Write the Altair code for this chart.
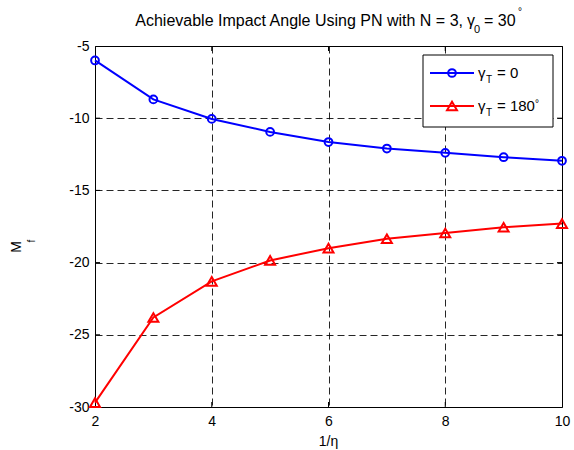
import altair as alt
import pandas as pd

# 1/eta sweep and the achievable impact angle for two target headings
inv_eta = [2, 3, 4, 5, 6, 7, 8, 9, 10]
gamma_t_0 = [-6.0, -8.7, -10.05, -10.95, -11.65, -12.1, -12.4, -12.7, -12.95]
gamma_t_180 = [-29.7, -23.8, -21.3, -19.85, -19.0, -18.35, -17.95, -17.55, -17.3]

series_names = ["gT0", "gT180"]
series_colors = ["#0000ff", "#ff0000"]

x_ticks = [2, 4, 6, 8, 10]
y_ticks = [-30, -25, -20, -15, -10, -5]
x_inner = [4, 6, 8]
y_inner = [-25, -20, -15, -10]

W, H = 467, 361
FONT = "Liberation Sans"

df = pd.concat([
    pd.DataFrame({"x": inv_eta, "y": gamma_t_0, "s": series_names[0]}),
    pd.DataFrame({"x": inv_eta, "y": gamma_t_180, "s": series_names[1]}),
])

xscale = alt.Scale(domain=[2, 10], nice=False, zero=False)
yscale = alt.Scale(domain=[-30, -5], nice=False, zero=False)
cscale = alt.Scale(domain=series_names, range=series_colors)

xaxis = alt.Axis(values=x_ticks, title=None, grid=True, gridDash=[7, 4], gridColor="black",
                 gridOpacity=0.85, domain=False, ticks=False, tickSize=0, labelPadding=7,
                 labelFlush=False, labelFont=FONT, labelFontSize=14, labelColor="black")
yaxis = alt.Axis(values=y_ticks, title=None, grid=True, gridDash=[7, 4], gridColor="black",
                 gridOpacity=0.85, domain=False, ticks=False, tickSize=0, labelPadding=6,
                 labelFlush=False, labelFont=FONT, labelFontSize=14, labelColor="black",
                 labelExpr="datum.value + ''")

X = alt.X("x:Q", scale=xscale, axis=xaxis)
Y = alt.Y("y:Q", scale=yscale, axis=yaxis)

base = alt.Chart(df)
lines = base.mark_line(strokeWidth=2).encode(
    x=X, y=Y,
    color=alt.Color("s:N", scale=cscale, legend=None),
    detail="s:N",
)
points_circ = base.transform_filter(alt.datum.s == series_names[0]).mark_point(
    filled=False, strokeWidth=2, opacity=1, shape="circle", color=series_colors[0], size=60
).encode(x=X, y=Y)
points_tri = base.transform_filter(alt.datum.s == series_names[1]).mark_point(
    filled=False, strokeWidth=2, opacity=1, shape="triangle-up", color=series_colors[1], size=100
).encode(x=X, y=Y)

# inward tick marks on all four sides
xt = alt.Chart(pd.DataFrame({"x": x_inner}))
yt = alt.Chart(pd.DataFrame({"y": y_inner}))
tick_layers = [
    xt.mark_rule(color="black").encode(x=X, y=alt.value(H), y2=alt.value(H - 5)),
    xt.mark_rule(color="black").encode(x=X, y=alt.value(0), y2=alt.value(5)),
    yt.mark_rule(color="black").encode(y=Y, x=alt.value(0), x2=alt.value(5)),
    yt.mark_rule(color="black").encode(y=Y, x=alt.value(W), x2=alt.value(W - 5)),
]

one = alt.Chart(pd.DataFrame({"k": [0]}))


def txt(text, x, y, size=14, align="left", angle=None):
    kw = dict(text=text, align=align, baseline="alphabetic", font=FONT,
              fontSize=size, color="black")
    if angle is not None:
        kw.update(angle=angle, baseline="middle", align="center")
    return one.mark_text(**kw).encode(x=alt.value(x), y=alt.value(y))


# title with subscript / superscript pieces
title_layers = [
    txt("Achievable Impact Angle Using PN with N = 3,", 368, -20, 16, align="right"),
    txt("γ", 372, -20, 16),
    txt("0", 379, -13, 11),
    txt("= 30", 389, -20, 16),
    txt("°", 423, -31, 10),
]

# axis titles
axis_title_layers = [
    txt("1/η", W / 2, 400, 14, align="center"),
    txt("M", -78, 201, 14, angle=270),
    txt("f", -63, 195, 10, angle=270),
]

# legend box
legend_layers = [
    one.mark_rect(fill="white", stroke="black", strokeWidth=1).encode(
        x=alt.value(328), x2=alt.value(458), y=alt.value(9), y2=alt.value(81)),
    one.mark_rule(color=series_colors[0], strokeWidth=2).encode(
        x=alt.value(335), x2=alt.value(379), y=alt.value(27)),
    one.mark_point(shape="circle", filled=False, strokeWidth=2, size=60,
                   color=series_colors[0], opacity=1).encode(x=alt.value(357), y=alt.value(27)),
    one.mark_rule(color=series_colors[1], strokeWidth=2).encode(
        x=alt.value(335), x2=alt.value(379), y=alt.value(60)),
    one.mark_point(shape="triangle-up", filled=False, strokeWidth=2, size=100,
                   color=series_colors[1], opacity=1).encode(x=alt.value(357), y=alt.value(60)),
    txt("γ", 383, 32, 15),
    txt("T", 391, 37, 10),
    txt("= 0", 402, 32, 15),
    txt("γ", 383, 65, 15),
    txt("T", 391, 70, 10),
    txt("= 180", 402, 65, 15),
    txt("°", 440, 61, 10),
]

chart = alt.layer(
    lines, *tick_layers, points_circ, points_tri,
    *legend_layers, *title_layers, *axis_title_layers,
).properties(
    width=W, height=H,
    padding={"left": 95, "top": 46, "right": 12, "bottom": 43},
    autosize=alt.AutoSizeParams(type="none"),
    background="white",
).configure_view(stroke="black", strokeWidth=1)

chart.save("out.html", embed_options={"renderer": "svg", "actions": False})
